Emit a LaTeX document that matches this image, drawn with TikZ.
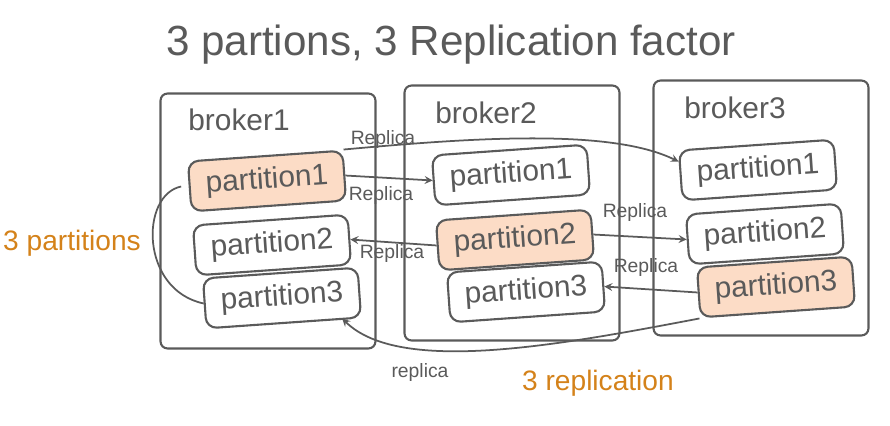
\documentclass[tikz,border=0pt]{standalone}
\usepackage{fontspec}
\setmainfont{Liberation Sans}
\usepackage{tikz}
\definecolor{ink}{HTML}{5A5A5A}
\definecolor{marker}{HTML}{D4821A}
\definecolor{hilite}{HTML}{FCDCC6}

\begin{document}
\begin{tikzpicture}[x=0.02cm,y=-0.02cm,
    broker/.style={draw=ink,line width=1.2pt,minimum width=4.3cm,minimum height=5.1cm,rounded corners=4pt},
    bname/.style={text=ink,font=\fontsize{17}{20}\selectfont},
    part/.style={draw=ink,line width=1.2pt,rounded corners=6pt,minimum width=3.1cm,minimum height=1cm,
        inner sep=1pt,rotate=4,text=ink,font=\fontsize{17}{20}\selectfont},
    leader/.style={part,fill=hilite},
    replica/.style={->,draw=ink,line width=1pt},
    rlabel/.style={text=ink,font=\fontsize{11}{13}\selectfont,inner sep=1pt},
    note/.style={text=marker,font=\fontsize{16}{19}\selectfont},
    >=stealth]

\useasboundingbox (0,0) rectangle (890,426);

\node[text=ink,font=\fontsize{24}{28}\selectfont] (title) at (451,45) {3 partions, 3 Replication factor};

% brokers
\node[broker] (b1) at (268,221) {};
\node[broker] (b2) at (512,213) {};
\node[broker] (b3) at (761,208) {};
\node[bname] (b1name) at (239,120) {broker1};
\node[bname] (b2name) at (486,113) {broker2};
\node[bname] (b3name) at (735,108) {broker3};

% partitions, leader of each one filled
\node[leader] (b1p1) at (267,181) {partition1};
\node[part]   (b1p2) at (272,245) {partition2};
\node[part]   (b1p3) at (282,298) {partition3};
\node[part]   (b2p1) at (511,175) {partition1};
\node[leader] (b2p2) at (515,240) {partition2};
\node[part]   (b2p3) at (526,292) {partition3};
\node[part]   (b3p1) at (758,170) {partition1};
\node[part]   (b3p2) at (765,234) {partition2};
\node[leader] (b3p3) at (776,287) {partition3};

% From partition1: to broker2 and broker3
\draw[replica] (b1p1.north east) .. controls (470,138) and (610,128) .. (b3p1.170);
\draw[replica] (b1p1.east) -- (b2p1.west);
\node[rlabel] (r1) at (383,140) {Replica};
\node[rlabel] (r2) at (381,196) {Replica};

% From partition2: to broker1 and broker3
\draw[replica] (b2p2.west) -- (b1p2.east);
\draw[replica] (b2p2.east) -- (b3p2.west);
\node[rlabel] (r3) at (392,254) {Replica};
\node[rlabel] (r4) at (635,213) {Replica};

% From partition3: to broker2 and broker1
\draw[replica] (b3p3.west) -- (b2p3.east);
\draw[replica] (b3p3.south west) .. controls (560,345) and (400,375) .. ([xshift=-0.4cm]b1p3.south east);
\node[rlabel] (r5) at (646,268) {Replica};
\node[rlabel] (r6) at (420,372) {replica};

% notes
\draw[ink,line width=1pt] ([xshift=-0.15cm]b1p1.west) .. controls (140,195) and (140,290) .. (b1p3.west);
\node[note] (parts) at (72,243) {3 partitions};
\node[note] (reps) at (598,383) {3 replication};

\end{tikzpicture}
\end{document}
